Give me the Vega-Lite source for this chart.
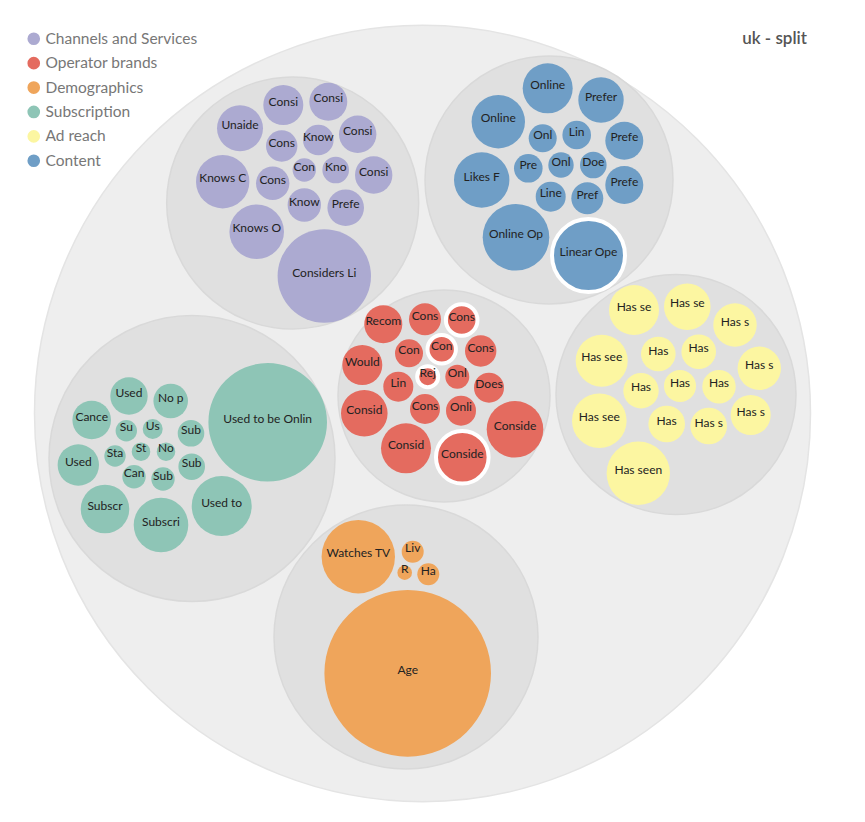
{
  "$schema": "https://vega.github.io/schema/vega-lite/v6.json",
  "width": 865,
  "height": 822,
  "padding": 0,
  "autosize": {"type": "none"},
  "background": "white",
  "config": {"view": {"stroke": null}},
  "title": {"text": "uk - split", "anchor": "end", "orient": "top", "fontSize": 17, "font": "Lato", "fontWeight": 600, "color": "#555555", "dx": -58, "dy": 52},
  "datasets": {
    "nodes": [
      {"label": "", "group": "root", "level": "root", "x": 422.5, "y": 413.5, "r": 388},
      {"label": "", "group": "Channels and Services", "level": "group", "x": 292.7, "y": 203, "r": 126},
      {"label": "", "group": "Content", "level": "group", "x": 549, "y": 180, "r": 124},
      {"label": "", "group": "Operator brands", "level": "group", "x": 444, "y": 396, "r": 106},
      {"label": "", "group": "Ad reach", "level": "group", "x": 676, "y": 394.5, "r": 120},
      {"label": "", "group": "Subscription", "level": "group", "x": 192, "y": 458.5, "r": 143},
      {"label": "", "group": "Demographics", "level": "group", "x": 406, "y": 637, "r": 132}
    ],
    "leaves": [
      {"label": "Consi", "group": "Channels and Services", "x": 283.3, "y": 105, "r": 20, "sel": false},
      {"label": "Consi", "group": "Channels and Services", "x": 328.3, "y": 101.7, "r": 19, "sel": false},
      {"label": "Unaide", "group": "Channels and Services", "x": 240, "y": 128.3, "r": 23, "sel": false},
      {"label": "Cons", "group": "Channels and Services", "x": 281.7, "y": 146, "r": 15.7, "sel": false},
      {"label": "Know", "group": "Channels and Services", "x": 318.3, "y": 140, "r": 15.3, "sel": false},
      {"label": "Consi", "group": "Channels and Services", "x": 357.7, "y": 134.3, "r": 18.7, "sel": false},
      {"label": "Knows C", "group": "Channels and Services", "x": 222.7, "y": 181.7, "r": 26.7, "sel": false},
      {"label": "Cons", "group": "Channels and Services", "x": 272.7, "y": 183.3, "r": 16.7, "sel": false},
      {"label": "Con", "group": "Channels and Services", "x": 304.3, "y": 170, "r": 11.7, "sel": false},
      {"label": "Kno", "group": "Channels and Services", "x": 335.7, "y": 170, "r": 13.3, "sel": false},
      {"label": "Consi", "group": "Channels and Services", "x": 373.7, "y": 175, "r": 18.7, "sel": false},
      {"label": "Know", "group": "Channels and Services", "x": 304.3, "y": 205, "r": 16.7, "sel": false},
      {"label": "Prefe", "group": "Channels and Services", "x": 345.7, "y": 207.7, "r": 18.3, "sel": false},
      {"label": "Knows O", "group": "Channels and Services", "x": 256.7, "y": 231.7, "r": 27.3, "sel": false},
      {"label": "Considers Li", "group": "Channels and Services", "x": 324.3, "y": 276, "r": 46.7, "sel": false},

      {"label": "Online", "group": "Content", "x": 547.7, "y": 88.3, "r": 25, "sel": false},
      {"label": "Prefer", "group": "Content", "x": 601, "y": 100, "r": 22.7, "sel": false},
      {"label": "Online", "group": "Content", "x": 498.3, "y": 121.7, "r": 26.7, "sel": false},
      {"label": "Onl", "group": "Content", "x": 542.7, "y": 138.3, "r": 14, "sel": false},
      {"label": "Lin", "group": "Content", "x": 576.7, "y": 135, "r": 14.3, "sel": false},
      {"label": "Prefe", "group": "Content", "x": 624.3, "y": 140.7, "r": 19, "sel": false},
      {"label": "Likes F", "group": "Content", "x": 481.7, "y": 180, "r": 27.7, "sel": false},
      {"label": "Pre", "group": "Content", "x": 528.3, "y": 168.3, "r": 14.3, "sel": false},
      {"label": "Onl", "group": "Content", "x": 561, "y": 165, "r": 12.7, "sel": false},
      {"label": "Doe", "group": "Content", "x": 593.3, "y": 165, "r": 13.3, "sel": false},
      {"label": "Prefe", "group": "Content", "x": 624.3, "y": 185, "r": 19, "sel": false},
      {"label": "Line", "group": "Content", "x": 550.7, "y": 196.7, "r": 15, "sel": false},
      {"label": "Pref", "group": "Content", "x": 587.3, "y": 198.3, "r": 16, "sel": false},
      {"label": "Online Op", "group": "Content", "x": 516, "y": 237.3, "r": 33.3, "sel": false},
      {"label": "Linear Ope", "group": "Content", "x": 588.5, "y": 255.5, "r": 36.5, "sel": true},

      {"label": "Recom", "group": "Operator brands", "x": 383.3, "y": 324.3, "r": 19, "sel": false},
      {"label": "Cons", "group": "Operator brands", "x": 425, "y": 319.3, "r": 16, "sel": false},
      {"label": "Cons", "group": "Operator brands", "x": 461.7, "y": 320, "r": 15.8, "sel": true},
      {"label": "Con", "group": "Operator brands", "x": 409, "y": 353.3, "r": 14, "sel": false},
      {"label": "Con", "group": "Operator brands", "x": 441.7, "y": 349.3, "r": 14.2, "sel": true},
      {"label": "Cons", "group": "Operator brands", "x": 480.7, "y": 351, "r": 15.7, "sel": false},
      {"label": "Would", "group": "Operator brands", "x": 362.3, "y": 365, "r": 20, "sel": false},
      {"label": "Rej", "group": "Operator brands", "x": 427.7, "y": 376.7, "r": 10.5, "sel": true},
      {"label": "Onl", "group": "Operator brands", "x": 457.3, "y": 376.7, "r": 12, "sel": false},
      {"label": "Lin", "group": "Operator brands", "x": 398.3, "y": 386.7, "r": 15, "sel": false},
      {"label": "Does", "group": "Operator brands", "x": 489, "y": 387.7, "r": 15, "sel": false},
      {"label": "Consid", "group": "Operator brands", "x": 364.3, "y": 413.3, "r": 23.3, "sel": false},
      {"label": "Cons", "group": "Operator brands", "x": 425, "y": 409, "r": 15, "sel": false},
      {"label": "Onli", "group": "Operator brands", "x": 461, "y": 410.7, "r": 15, "sel": false},
      {"label": "Conside", "group": "Operator brands", "x": 515, "y": 429.3, "r": 28.3, "sel": false},
      {"label": "Consid", "group": "Operator brands", "x": 406, "y": 448.3, "r": 25, "sel": false},
      {"label": "Conside", "group": "Operator brands", "x": 462.3, "y": 457.3, "r": 26.3, "sel": true},

      {"label": "Has se", "group": "Ad reach", "x": 634, "y": 310, "r": 25, "sel": false},
      {"label": "Has se", "group": "Ad reach", "x": 687.3, "y": 306.7, "r": 23.3, "sel": false},
      {"label": "Has s", "group": "Ad reach", "x": 735, "y": 325, "r": 21.7, "sel": false},
      {"label": "Has see", "group": "Ad reach", "x": 601.7, "y": 360.7, "r": 26, "sel": false},
      {"label": "Has", "group": "Ad reach", "x": 658.3, "y": 354, "r": 17.3, "sel": false},
      {"label": "Has", "group": "Ad reach", "x": 698.7, "y": 351.7, "r": 17.3, "sel": false},
      {"label": "Has s", "group": "Ad reach", "x": 759.3, "y": 368.3, "r": 21.7, "sel": false},
      {"label": "Has", "group": "Ad reach", "x": 641, "y": 390.7, "r": 17.7, "sel": false},
      {"label": "Has", "group": "Ad reach", "x": 680, "y": 386, "r": 16, "sel": false},
      {"label": "Has", "group": "Ad reach", "x": 719, "y": 386.7, "r": 16.7, "sel": false},
      {"label": "Has see", "group": "Ad reach", "x": 599.3, "y": 420.7, "r": 27.3, "sel": false},
      {"label": "Has", "group": "Ad reach", "x": 666.7, "y": 424, "r": 18.3, "sel": false},
      {"label": "Has s", "group": "Ad reach", "x": 708.7, "y": 426, "r": 18.3, "sel": false},
      {"label": "Has s", "group": "Ad reach", "x": 750.7, "y": 415, "r": 20, "sel": false},
      {"label": "Has seen", "group": "Ad reach", "x": 638.3, "y": 473.3, "r": 31.7, "sel": false},

      {"label": "Used", "group": "Subscription", "x": 129, "y": 396, "r": 18.7, "sel": false},
      {"label": "No p", "group": "Subscription", "x": 170.7, "y": 401, "r": 17.3, "sel": false},
      {"label": "Used to be Onlin", "group": "Subscription", "x": 267.7, "y": 422.3, "r": 59.3, "sel": false},
      {"label": "Cance", "group": "Subscription", "x": 91.7, "y": 420, "r": 19.3, "sel": false},
      {"label": "Su", "group": "Subscription", "x": 126.3, "y": 430.7, "r": 10.7, "sel": false},
      {"label": "Us", "group": "Subscription", "x": 152.7, "y": 429, "r": 10, "sel": false},
      {"label": "Sub", "group": "Subscription", "x": 191, "y": 433.3, "r": 13.3, "sel": false},
      {"label": "Used", "group": "Subscription", "x": 78.3, "y": 465, "r": 20.7, "sel": false},
      {"label": "Sta", "group": "Subscription", "x": 115, "y": 456, "r": 10.7, "sel": false},
      {"label": "St", "group": "Subscription", "x": 141, "y": 451.7, "r": 9.3, "sel": false},
      {"label": "No", "group": "Subscription", "x": 166, "y": 451.7, "r": 9.3, "sel": false},
      {"label": "Sub", "group": "Subscription", "x": 191.7, "y": 466.7, "r": 13.3, "sel": false},
      {"label": "Can", "group": "Subscription", "x": 134, "y": 476.7, "r": 11.7, "sel": false},
      {"label": "Sub", "group": "Subscription", "x": 163, "y": 479, "r": 11.7, "sel": false},
      {"label": "Subscr", "group": "Subscription", "x": 105, "y": 509, "r": 24.3, "sel": false},
      {"label": "Subscri", "group": "Subscription", "x": 161, "y": 525, "r": 27.3, "sel": false},
      {"label": "Used to", "group": "Subscription", "x": 221.7, "y": 506, "r": 30, "sel": false},

      {"label": "Watches TV", "group": "Demographics", "x": 358.3, "y": 556.7, "r": 36.7, "sel": false},
      {"label": "Liv", "group": "Demographics", "x": 412.7, "y": 551.7, "r": 11, "sel": false},
      {"label": "R", "group": "Demographics", "x": 404.7, "y": 572.7, "r": 7.3, "sel": false},
      {"label": "Ha", "group": "Demographics", "x": 428.3, "y": 574.3, "r": 11, "sel": false},
      {"label": "Age", "group": "Demographics", "x": 407.7, "y": 673.3, "r": 83.3, "sel": false}
    ]
  },
  "layer": [
    {
      "data": {"name": "nodes"},
      "mark": {"type": "point", "shape": "circle", "filled": true, "opacity": 1},
      "encoding": {
        "x": {"field": "x", "type": "quantitative", "scale": {"domain": [0, 865], "nice": false, "zero": false}, "axis": null},
        "y": {"field": "y", "type": "quantitative", "scale": {"domain": [0, 822], "nice": false, "zero": false, "reverse": true}, "axis": null},
        "size": {"field": "r", "type": "quantitative", "scale": {"type": "pow", "exponent": 2, "domain": [0, 400], "range": [0, 640000]}, "legend": null},
        "fill": {"condition": {"test": "datum.level === 'root'", "value": "#eeeeee"}, "value": "#e0e0e0"},
        "stroke": {"condition": {"test": "datum.level === 'root'", "value": "#e4e4e4"}, "value": "#d9d9d9"},
        "strokeWidth": {"value": 1.5}
      }
    },
    {
      "data": {"name": "leaves"},
      "mark": {"type": "point", "shape": "circle", "filled": true, "opacity": 1, "stroke": "white"},
      "encoding": {
        "x": {"field": "x", "type": "quantitative"},
        "y": {"field": "y", "type": "quantitative"},
        "size": {"field": "r", "type": "quantitative", "legend": null},
        "fill": {
          "field": "group", "type": "nominal",
          "scale": {"domain": ["Channels and Services", "Operator brands", "Demographics", "Subscription", "Ad reach", "Content"],
                    "range": ["#acaad1", "#e46b5f", "#efa55b", "#8ec5b6", "#fcf6a1", "#6f9ec6"]},
          "legend": {"orient": "none", "legendX": 26, "legendY": 31, "title": null, "symbolType": "circle", "symbolSize": 160, "symbolStrokeWidth": 0, "symbolOpacity": 1, "labelFontSize": 15.5, "labelFont": "Lato", "labelColor": "#777777", "rowPadding": 7.4, "labelOffset": 4}
        },
        "strokeWidth": {"condition": {"test": "datum.sel", "value": 4}, "value": 0}
      }
    },
    {
      "data": {"name": "leaves"},
      "mark": {"type": "text", "font": "Lato", "fontSize": 12, "color": "#222222", "baseline": "middle", "align": "center", "dy": -3.5},
      "encoding": {
        "x": {"field": "x", "type": "quantitative"},
        "y": {"field": "y", "type": "quantitative"},
        "text": {"field": "label", "type": "nominal"}
      }
    }
  ]
}
